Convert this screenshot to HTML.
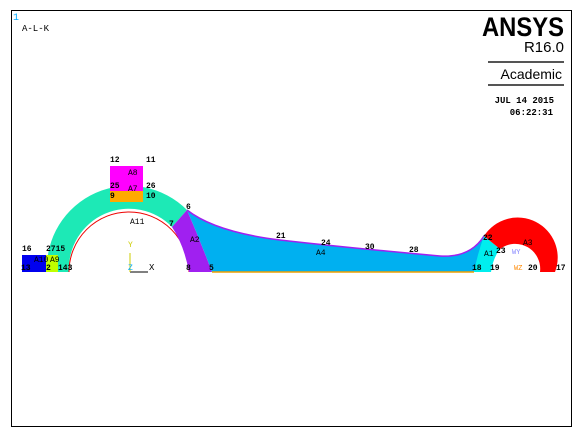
<!DOCTYPE html>
<html><head><meta charset="utf-8"><style>
body{margin:0;background:#fff}
svg{display:block;font-family:"Liberation Mono",monospace}
</style></head><body>
<svg width="584" height="438" viewBox="0 0 584 438">
<rect x="0" y="0" width="584" height="438" fill="#fff"/>
<rect x="11.5" y="10.5" width="560" height="416" fill="none" stroke="#000"/>
<text x="13" y="20" font-size="10" fill="#00aaff">1</text>
<text x="22" y="31" font-size="9" fill="#000">A-L-K</text>
<g>
<text x="482" y="36" textLength="82" lengthAdjust="spacingAndGlyphs" font-family="Liberation Sans,sans-serif" font-weight="bold" font-size="27">ANSYS</text>
<text x="564" y="52" font-family="Liberation Sans,sans-serif" font-size="15" text-anchor="end">R16.0</text>
<line x1="488" y1="62" x2="564" y2="62" stroke="#555" stroke-width="2"/>
<text x="562" y="79" font-family="Liberation Sans,sans-serif" font-size="14" text-anchor="end">Academic</text>
<line x1="488" y1="85" x2="564" y2="85" stroke="#555" stroke-width="2"/>
<text x="554" y="103" font-size="9" font-weight="bold" text-anchor="end">JUL 14 2015</text>
<text x="553" y="115" font-size="9" font-weight="bold" text-anchor="end">06:22:31</text>
</g>
<g>
<path d="M47,272 A82,82 0 0 1 187,210 L172,227 A60,60 0 0 0 69,272 Z" fill="#1de9b6"/>
<path d="M69,272 A60,60 0 0 1 189,272" fill="none" stroke="#e00" stroke-width="1"/>
<path d="M172,227 L187,210 Q200,240 212,272 L189,272 Q184,245 172,227 Z" fill="#a020f0"/>
<path d="M187,210 Q215,232 280,240 Q350,248 440,256 Q470,258 484,236 L474,272 L212,272 Q200,240 187,210 Z" fill="#00b0f0"/>
<path d="M187,210 Q215,232 280,240 Q350,248 440,256 Q470,258 484,236" fill="none" stroke="#a020f0" stroke-width="1.5"/>
<line x1="212" y1="272" x2="474" y2="272" stroke="#f0a000" stroke-width="1.5"/>
<path d="M484,236 L500,249 Q493,258 491,272 L474,272 Q478,252 484,236 Z" fill="#00eeee"/>
<path d="M484,236 A40,40 0 0 1 555,272 L540,272 A25,25 0 0 0 500,249 Z" fill="#ff0000"/>
<rect x="110" y="166" width="33" height="25" fill="#ff00ff"/>
<rect x="110" y="191" width="33" height="11" fill="#ffaa00"/>
<rect x="22" y="255" width="24" height="17" fill="#0000ee"/>
<rect x="46" y="255" width="12" height="17" fill="#c0ff00"/>
</g>
<g font-size="8" font-weight="bold" fill="#000">
<text x="22" y="251">16</text><text x="21" y="270">13</text><text x="46" y="251">2715</text><text x="46" y="270">2</text><text x="58" y="270">143</text>
<text x="110" y="162">12</text><text x="146" y="162">11</text><text x="110" y="188">25</text><text x="146" y="188">26</text>
<text x="110" y="198">9</text><text x="146" y="198">10</text><text x="186" y="209">6</text><text x="169" y="226">7</text>
<text x="186" y="270">8</text><text x="209" y="270">5</text><text x="276" y="238">21</text><text x="321" y="245">24</text>
<text x="365" y="249">30</text><text x="409" y="252">28</text><text x="483" y="240">22</text><text x="496" y="253">23</text>
<text x="472" y="270">18</text><text x="490" y="270">19</text><text x="528" y="270">20</text><text x="556" y="270">17</text>
</g>
<g font-size="8" fill="#000">
<text x="130" y="224">A11</text><text x="190" y="242">A2</text><text x="316" y="255">A4</text><text x="484" y="256">A1</text>
<text x="523" y="245">A3</text><text x="128" y="175">A8</text><text x="128" y="191">A7</text><text x="34" y="262">A10</text><text x="50" y="262">A9</text>
</g>
<g>
<line x1="130" y1="272" x2="148" y2="272" stroke="#000"/>
<line x1="130" y1="253" x2="130" y2="272" stroke="#cc0"/>
<text x="128" y="247" font-size="8" fill="#cc0">Y</text>
<text x="128" y="270" font-size="8" fill="#0af">Z</text>
<text x="149" y="270" font-size="9" fill="#000">X</text>
<text x="514" y="270" font-size="7" fill="#f80">WZ</text>
<text x="512" y="254" font-size="7" fill="#88f">WY</text>
</g>
</svg>
</body></html>
